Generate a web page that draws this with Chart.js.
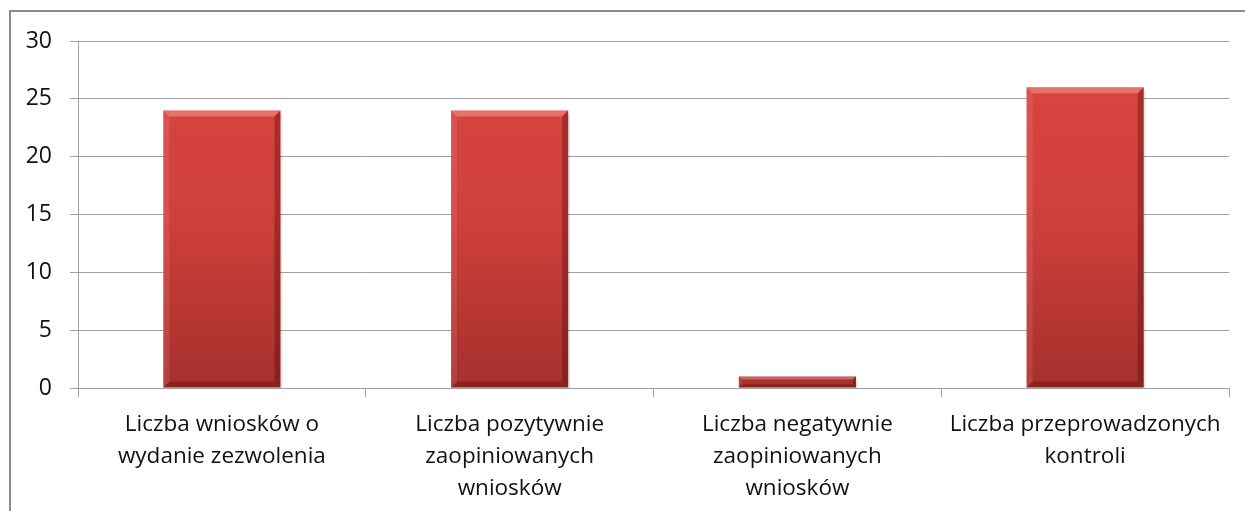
<!DOCTYPE html>
<html>
<head>
<meta charset="utf-8">
<script src="https://cdn.jsdelivr.net/npm/chart.js@4.4.1/dist/chart.umd.min.js"></script>
<style>
  html, body { margin: 0; padding: 0; background: #ffffff; }
  #wrap { position: relative; width: 1245px; height: 511px; }
  canvas { display: block; }
</style>
</head>
<body>
<div id="wrap"><canvas id="c" width="1245" height="511"></canvas></div>
<script>
const categories = [
  ["Liczba wniosków o", "wydanie zezwolenia"],
  ["Liczba pozytywnie", "zaopiniowanych", "wniosków"],
  ["Liczba negatywnie", "zaopiniowanych", "wniosków"],
  ["Liczba przeprowadzonych", "kontroli"]
];
const values = [24, 24, 1, 26];
const yTicks = [0, 5, 10, 15, 20, 25, 30];

const FONT = "'Open Sans', Lato, sans-serif";

const frame = {
  id: 'frame',
  beforeDraw(chart) {
    const ctx = chart.ctx;
    ctx.save();
    ctx.fillStyle = '#ffffff';
    ctx.fillRect(0, 0, chart.width, chart.height);
    ctx.strokeStyle = '#8c8c8c';
    ctx.lineWidth = 2;
    ctx.beginPath();
    ctx.moveTo(10, chart.height + 5);
    ctx.lineTo(10, 11);
    ctx.lineTo(chart.width + 5, 11);
    ctx.stroke();
    ctx.restore();
  }
};

const bevel = {
  id: 'bevel',
  afterDatasetsDraw(chart) {
    const ctx = chart.ctx;
    const meta = chart.getDatasetMeta(0);
    meta.data.forEach(bar => {
      const p = bar.getProps(['x', 'y', 'base', 'width'], true);
      const l = p.x - p.width / 2, r = p.x + p.width / 2;
      const t = Math.min(p.y, p.base), b = Math.max(p.y, p.base);
      const h = b - t;
      const s = Math.min(6, h / 3.5);
      ctx.save();
      ctx.fillStyle = 'rgba(0,0,0,0.10)';
      ctx.fillRect(r, t + 3, 2, h - 2);
      ctx.fillStyle = 'rgba(255,190,185,0.38)';
      ctx.beginPath();
      ctx.moveTo(l, t); ctx.lineTo(r, t); ctx.lineTo(r - s, t + s); ctx.lineTo(l + s, t + s); ctx.closePath();
      ctx.fill();
      ctx.fillStyle = 'rgba(255,170,165,0.15)';
      ctx.beginPath();
      ctx.moveTo(l, t); ctx.lineTo(l + s, t + s); ctx.lineTo(l + s, b - s); ctx.lineTo(l, b); ctx.closePath();
      ctx.fill();
      ctx.fillStyle = 'rgba(70,0,0,0.32)';
      ctx.beginPath();
      ctx.moveTo(r, t); ctx.lineTo(r, b); ctx.lineTo(r - s, b - s); ctx.lineTo(r - s, t + s); ctx.closePath();
      ctx.fill();
      ctx.fillStyle = 'rgba(70,0,0,0.28)';
      ctx.beginPath();
      ctx.moveTo(l, b); ctx.lineTo(r, b); ctx.lineTo(r - s, b - s); ctx.lineTo(l + s, b - s); ctx.closePath();
      ctx.fill();
      ctx.restore();
    });
  }
};

const ctx = document.getElementById('c').getContext('2d');
new Chart(ctx, {
  type: 'bar',
  data: {
    labels: categories,
    datasets: [{
      data: values,
      backgroundColor: (c) => {
        const ch = c.chart;
        const area = ch.chartArea;
        if (!area) return '#c83c38';
        const g = ch.ctx.createLinearGradient(0, area.top, 0, area.bottom);
        g.addColorStop(0, '#dc4642');
        g.addColorStop(0.5, '#cf403c');
        g.addColorStop(1, '#a6302d');
        return g;
      },
      borderWidth: 0,
      categoryPercentage: 1,
      barPercentage: 0.407
    }]
  },
  options: {
    responsive: false,
    animation: false,
    layout: { padding: { top: 41, right: 16, left: 0, bottom: 0 } },
    plugins: { legend: { display: false }, tooltip: { enabled: false } },
    scales: {
      x: {
        afterFit: (s) => { s.height = 123; },
        grid: { drawOnChartArea: false, color: '#a0a0a0', tickLength: 9, offset: true },
        border: { color: '#a0a0a0' },
        ticks: {
          color: '#111111', padding: 12, maxRotation: 0, autoSkip: false,
          font: { family: FONT, size: 22.5, lineHeight: 1.42 }
        }
      },
      y: {
        min: 0, max: 30,
        afterFit: (s) => { s.width = 78; },
        afterBuildTicks: (s) => { s.ticks = yTicks.map(v => ({ value: v })); },
        grid: { color: '#a0a0a0', tickLength: 8 },
        border: { color: '#a0a0a0' },
        ticks: {
          color: '#111111', padding: 18,
          font: { family: FONT, size: 23 }
        }
      }
    }
  },
  plugins: [frame, bevel]
});
</script>
</body>
</html>
